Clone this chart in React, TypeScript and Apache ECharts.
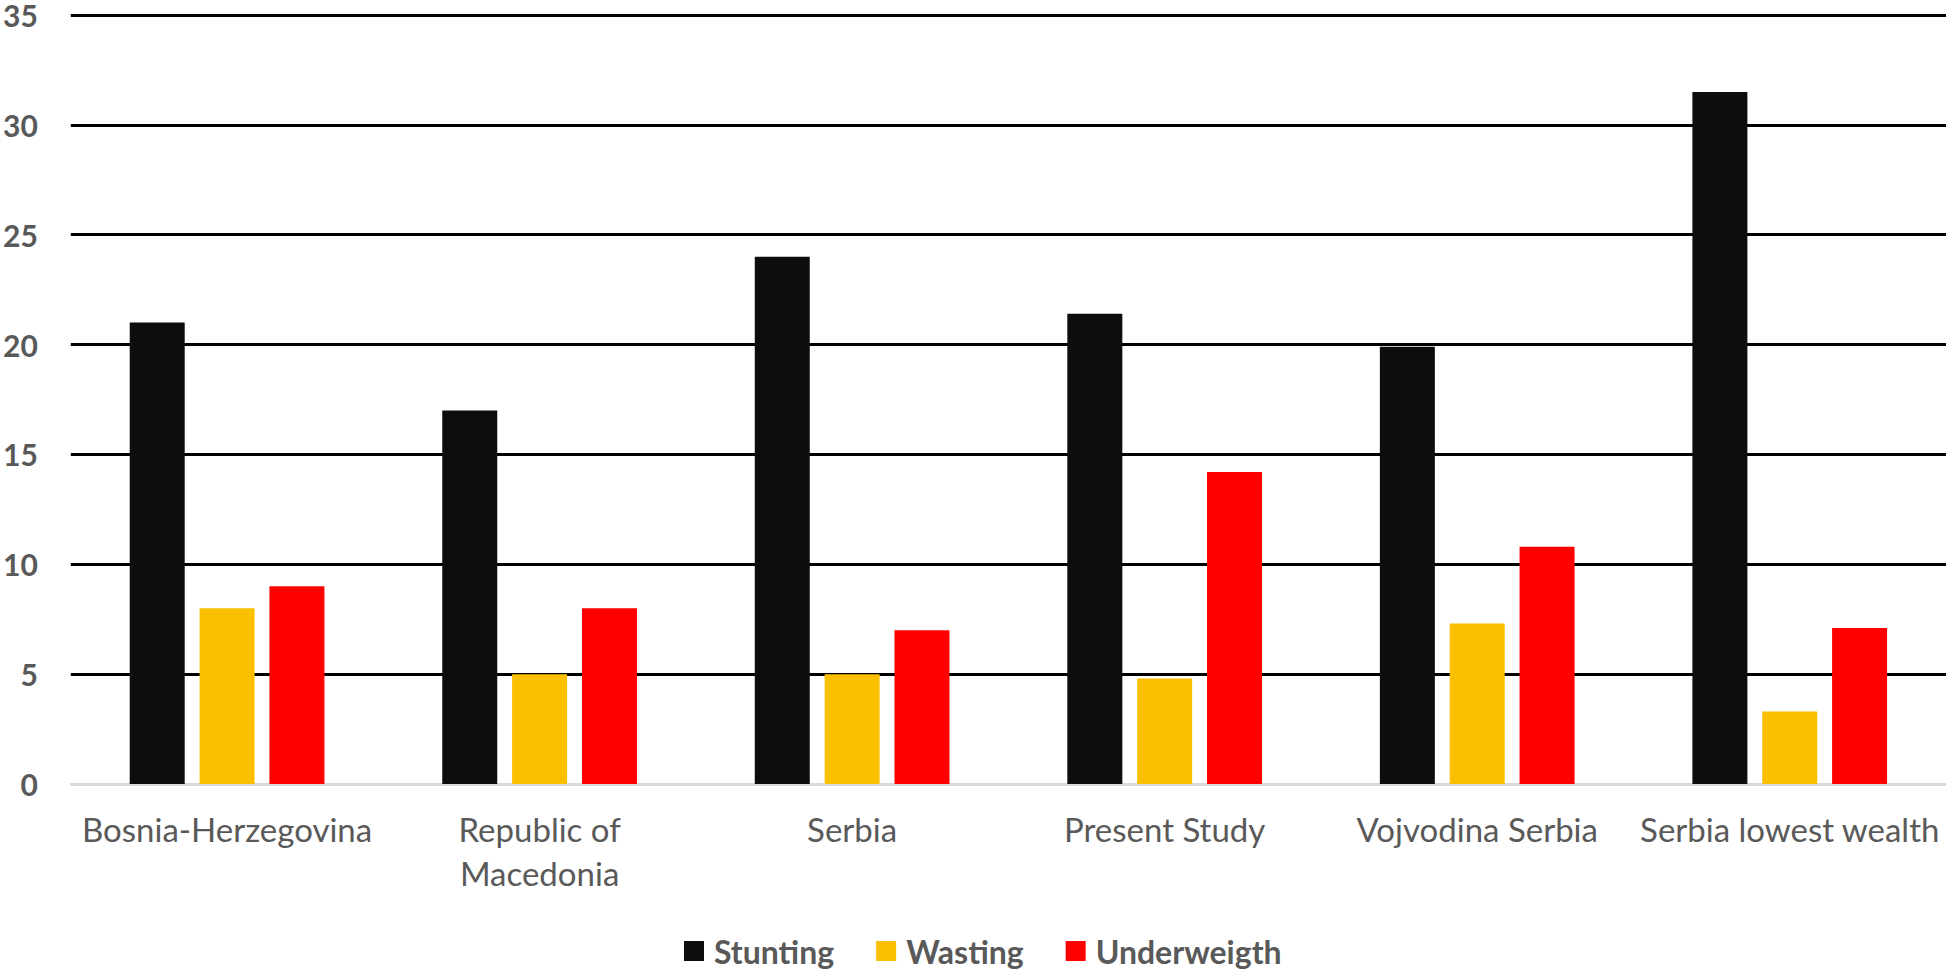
import React, { useEffect, useRef } from "react";
import * as echarts from "echarts";

const categories = [
  "Bosnia-Herzegovina",
  "Republic of\nMacedonia",
  "Serbia",
  "Present Study",
  "Vojvodina Serbia",
  "Serbia lowest wealth",
];
const stunting = [21, 17, 24, 21.4, 19.9, 31.5];
const wasting = [8, 5, 5, 4.8, 7.3, 3.3];
const underweigth = [9, 8, 7, 14.2, 10.8, 7.1];
const seriesNames = ["Stunting", "Wasting", "Underweigth"];
const seriesColors = ["#0d0d0d", "#fac000", "#ff0000"];

export default function App() {
  const ref = useRef<HTMLDivElement>(null);
  useEffect(() => {
    if (!ref.current) return;
    const chart = echarts.init(ref.current, null, { renderer: "svg" });
    const values = [stunting, wasting, underweigth];
    chart.setOption({
      animation: false,
      backgroundColor: "#ffffff",
      grid: { left: 66, right: 0, top: 13, bottom: 186, containLabel: false },
      legend: {
        left: 684,
        top: 935,
        padding: 0,
        itemWidth: 20,
        itemHeight: 20,
        itemGap: 42,
        icon: "rect",
        data: seriesNames,
        textStyle: {
          fontFamily: "Lato",
          fontWeight: "bold",
          fontSize: 32,
          color: "#595959",
          padding: [0, 0, 0, 5],
        },
      },
      xAxis: {
        type: "category",
        data: categories,
        axisLine: { show: true, lineStyle: { color: "#d9d9d9", width: 2 } },
        axisTick: { show: false },
        axisLabel: {
          interval: 0,
          fontFamily: "Lato",
          fontSize: 33,
          color: "#595959",
          lineHeight: 44,
          margin: 23,
        },
      },
      yAxis: {
        type: "value",
        min: 0,
        max: 35,
        interval: 5,
        axisLine: { show: false },
        axisTick: { show: false },
        axisLabel: {
          fontFamily: "Lato",
          fontWeight: "bold",
          fontSize: 30,
          lineHeight: 20,
          color: "#595959",
          margin: 33,
        },
        splitLine: {
          show: true,
          lineStyle: {
            color: ["#d9d9d9", "#000", "#000", "#000", "#000", "#000", "#000", "#000"],
            width: 3,
          },
        },
      },
      series: seriesNames.map((name, i) => ({
        name,
        type: "bar",
        data: values[i],
        barWidth: 55,
        barGap: "27%",
        itemStyle: { color: seriesColors[i] },
      })),
    });
    return () => chart.dispose();
  }, []);
  return (
    <div
      ref={ref}
      style={{ position: "absolute", left: 0, top: 0, width: 1946, height: 970 }}
    />
  );
}
